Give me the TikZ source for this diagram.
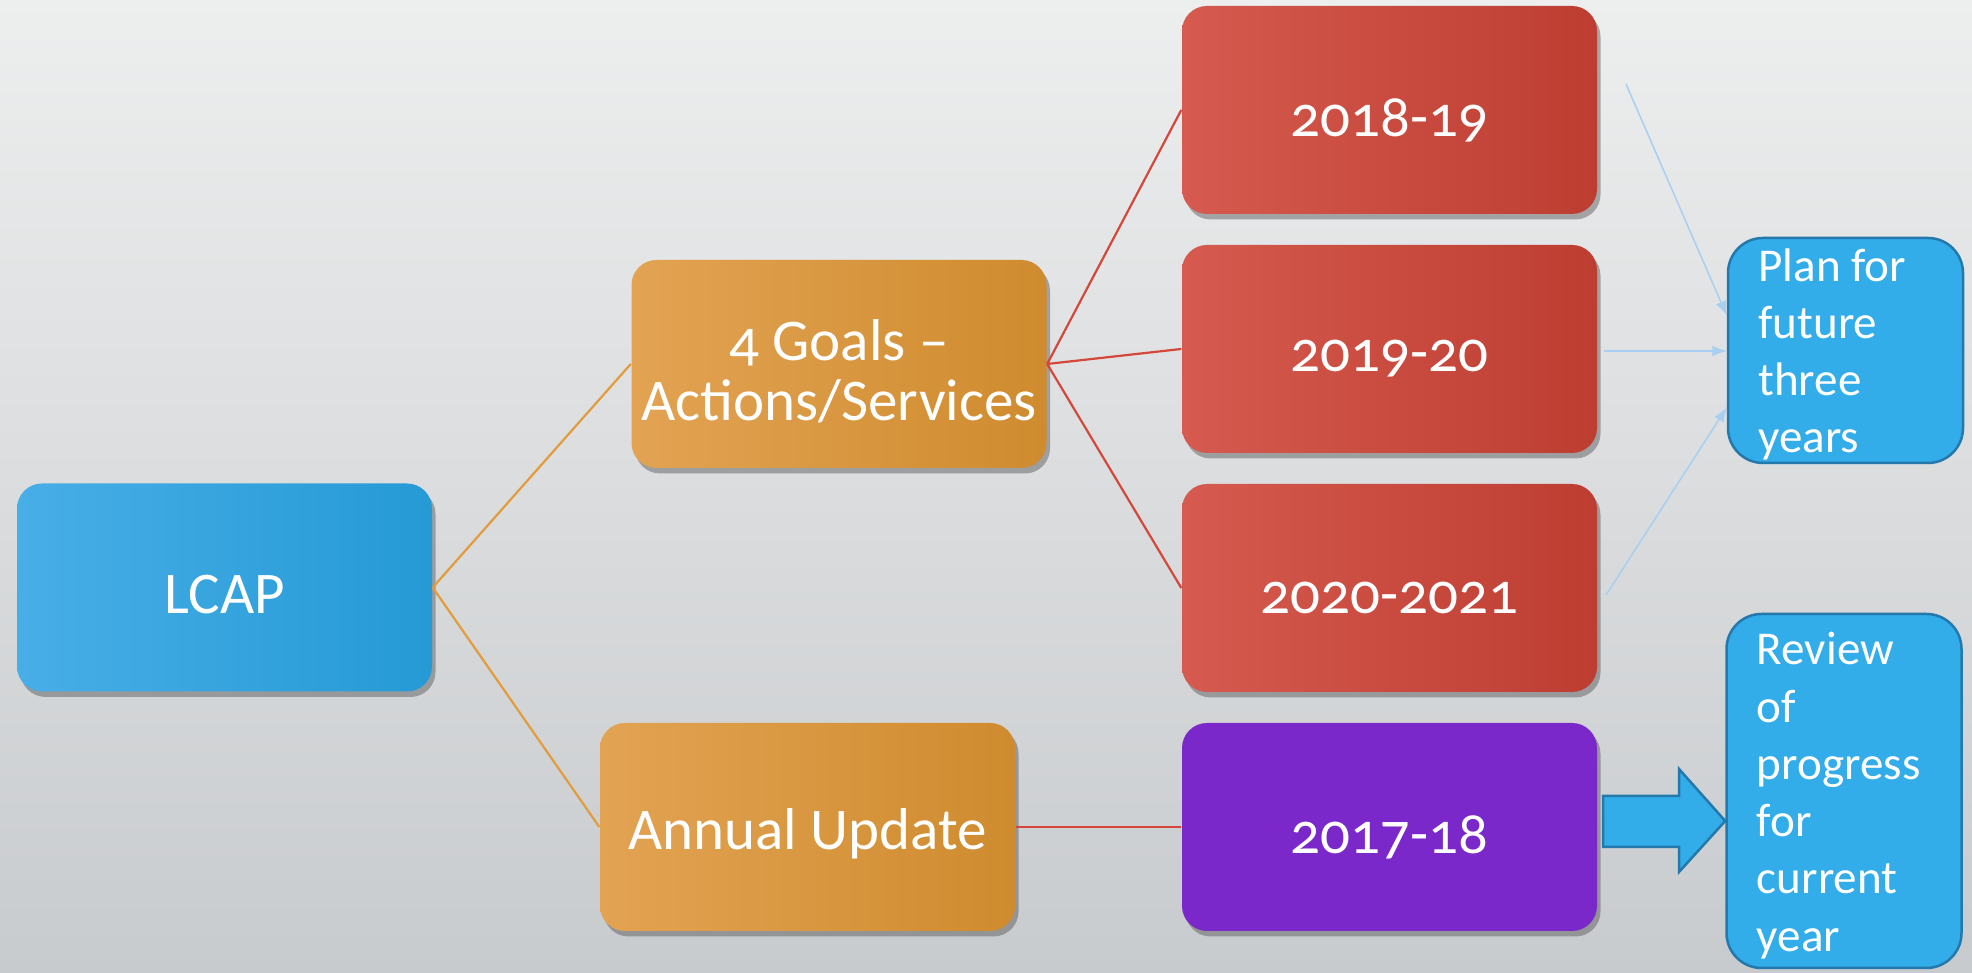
\documentclass[tikz,border=0pt]{standalone}
\usepackage{fontspec}
\setmainfont{Carlito}[Numbers=OldStyle]
\usetikzlibrary{positioning,calc,shadows}

\definecolor{bgtop}{HTML}{EDEEEE}
\definecolor{bgmid}{HTML}{F2F2F2}
\definecolor{bgbot}{HTML}{C8CBCE}
\definecolor{lcapL}{HTML}{48AEE7}
\definecolor{lcapR}{HTML}{259AD5}
\definecolor{goldL}{HTML}{E2A353}
\definecolor{goldR}{HTML}{CF8B2E}
\definecolor{redL}{HTML}{D65A4F}
\definecolor{redR}{HTML}{BD3D31}
\definecolor{purp}{HTML}{7B28CA}
\definecolor{skyfill}{HTML}{33ACEA}
\definecolor{skyedge}{HTML}{2379AB}
\definecolor{orangeln}{HTML}{E29C3C}
\definecolor{redln}{HTML}{D4473B}
\definecolor{paleln}{HTML}{A8CFF2}

% lower a line of box text a little, keeping its box size
\newcommand{\sink}[2][0.7mm]{\raisebox{-#1}[\height][\depth]{#2}}

\begin{document}
\begin{tikzpicture}[x=0.1mm, y=0.1mm,
        box/.style={rounded corners=2.5mm, minimum width=41.5mm, minimum height=20.8mm,
            inner sep=0pt, align=center, text=white, font=\fontsize{16.8}{17}\selectfont,
            drop shadow={shadow xshift=0.35mm, shadow yshift=-0.55mm, opacity=0.4, fill=black!75}},
        lcapbox/.style={box, left color=lcapL, right color=lcapR},
        goldbox/.style={box, left color=goldL, right color=goldR},
        yearbox/.style={box, left color=redL, right color=redR},
        notebox/.style={draw=skyedge, line width=0.25mm, fill=skyfill, rounded corners=3.5mm,
            minimum width=23.5mm, inner sep=0pt},
        notetext/.style={anchor=north west, inner sep=0pt, align=left, text=white,
            font=\fontsize{13.4}{16.3}\selectfont},
        twig/.style={line width=0.22mm},
        pale/.style={->, >=latex, draw=paleln, line width=0.15mm}]
    % backdrop
    \shade[top color=bgtop, middle color=bgmid, bottom color=bgbot] (0,0) rectangle (1972,973);
    \useasboundingbox (0,0) rectangle (1972,973);
    % boxes
    \node[lcapbox] (lcap) at (224.5,385.5) {\sink{LCAP}};
    \node[goldbox] (goals) at (839,609) {\sink{4 Goals --}\\\sink{Actions/Services}};
    \node[goldbox] (update) at (807.5,146) {\sink{Annual Update}};
    \node[yearbox] (yrA) at (1389.5,863) {\sink[1mm]{2018-19}};
    \node[yearbox] (yrB) at (1389.5,624) {\sink[1mm]{2019-20}};
    \node[yearbox] (yrC) at (1389.5,385) {\sink[1mm]{2020-2021}};
    \node[box, fill=purp] (yrD) at (1389.5,146) {\sink[1mm]{2017-18}};
    \node[notebox, minimum height=22.5mm] (plan) at (1845.5,622.5) {};
    \node[notetext] (plantxt) at ($(plan.north west)+(31,-11)$) {Plan for\\future\\three\\years};
    \node[notebox, minimum height=35.4mm] (review) at (1844,182) {};
    \node[notetext] (reviewtxt) at ($(review.north west)+(31,-19)$) {Review\\of\\progress\\for\\current\\year};
    % connectors
    \draw[twig, orangeln] (lcap.east) -- (goals.west);
    \draw[twig, orangeln] (lcap.east) -- (update.west);
    \foreach \yr in {yrA,yrB,yrC}
        \draw[twig, redln] (goals.east) -- (\yr.west);
    \draw[twig, redln] (update.east) -- (yrD.west);
    \coordinate (fromA) at (1626,889);
    \coordinate (fromB) at (1604,622);
    \coordinate (fromC) at (1606,378);
    \draw[pale] (fromA) -- ($(plan.west)+(0,35)$);
    \draw[pale] (fromB) -- (plan.west |- fromB);
    \draw[pale] (fromC) -- ($(plan.west)+(0,-57)$);
    % block arrow
    \draw[draw=skyedge, line width=0.25mm, fill=skyfill, line join=miter]
        (1603,177) -- (1679,177) -- (1679,204) -- (review.west |- 0,152) -- (1679,101)
        -- (1679,126) -- (1603,126) -- cycle;
\end{tikzpicture}
\end{document}
